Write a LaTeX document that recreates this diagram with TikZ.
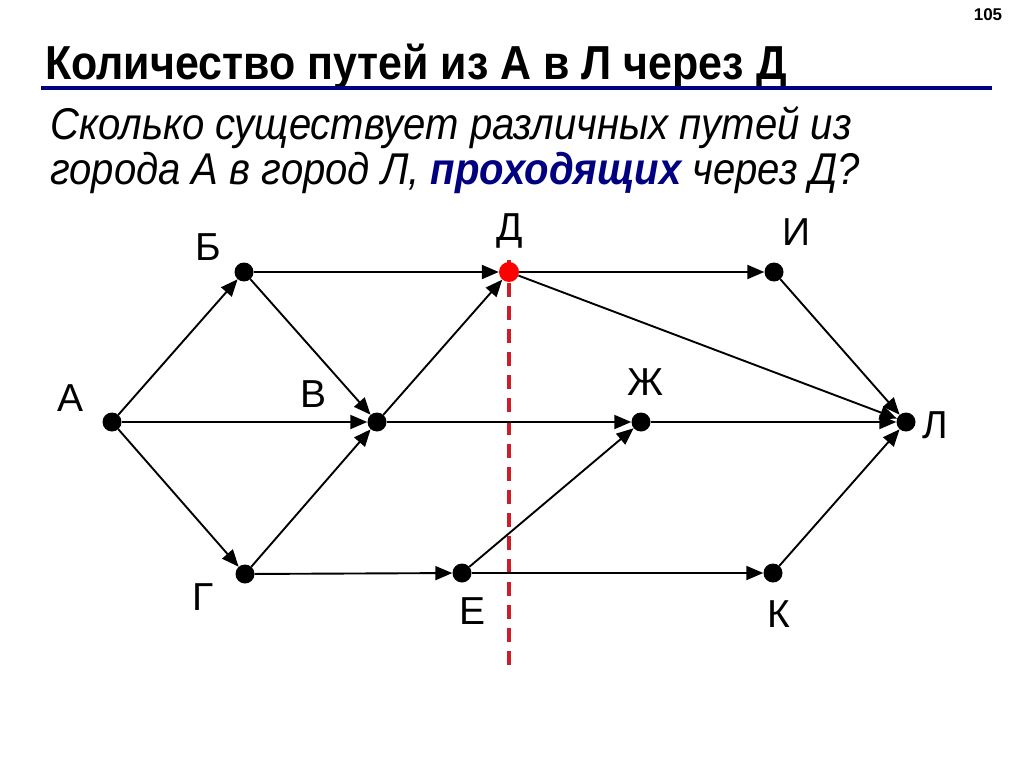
\documentclass[tikz,border=0pt]{standalone}
\usepackage{fontspec}
\setmainfont{Liberation Sans}
\newfontfamily\slidefont[FakeStretch=0.9]{Liberation Sans}
\usetikzlibrary{arrows.meta}
\definecolor{titleblue}{RGB}{0,0,128}
\definecolor{cutred}{RGB}{205,30,40}
\tikzset{
  town/.style={circle, fill=black, inner sep=0pt, minimum size=19pt},
  townname/.style={font=\fontsize{39}{41}\selectfont, inner sep=0pt},
  road/.style={line width=1.9pt, -{Triangle[length=17pt,width=14pt]}},
  cut/.style={cutred, line width=3.3pt, dash pattern=on 14pt off 9pt}
}

\begin{document}
\begin{tikzpicture}[x=1pt, y=-1pt]
\useasboundingbox[fill=white] (0,0) rectangle (1024,767);
\node[font=\bfseries\fontsize{17}{18}\selectfont] (num) at (988,15) {105};
\node[anchor=base west, inner sep=0pt, font=\slidefont\bfseries\fontsize{47.7}{50}\selectfont] (title) at (45,80) {Количество путей из А в Л через Д};
\coordinate (rulel) at (41,88);
\coordinate (ruler) at (992,88);
\draw[titleblue, line width=3.5pt] (rulel) -- (ruler);
\node[anchor=base west, inner sep=0pt, font=\slidefont\itshape\fontsize{44.5}{46}\selectfont] (q1) at (50,140) {Сколько существует различных путей из};
\node[anchor=base west, inner sep=0pt, font=\slidefont\itshape\fontsize{44.5}{46}\selectfont] (q2) at (50,185) {города А в город Л, {\bfseries\color{titleblue}проходящих} через Д?};

\coordinate (cuttop) at (509,260);
\coordinate (cutbot) at (509,674);
\draw[cut] (cuttop) -- (cutbot);

\node[town] (A) at (112,422) {};
\node[town] (B) at (244,272) {};
\node[town] (V) at (377,422) {};
\node[town] (G) at (245,574) {};
\node[town, fill=red, minimum size=20pt] (D) at (509,272) {};
\node[town] (E) at (462,573) {};
\node[town] (Zh) at (641,422) {};
\node[town] (I) at (774,272) {};
\node[town] (K) at (773,573) {};
\node[town] (L) at (906,422) {};

\node[townname] (nA) at (71,398) {А};
\node[townname] (nB) at (208,247) {Б};
\node[townname] (nV) at (314,394) {В};
\node[townname] (nG) at (203,597) {Г};
\node[townname] (nD) at (510,231) {Д};
\node[townname] (nE) at (472,611) {Е};
\node[townname] (nZh) at (645,382) {Ж};
\node[townname] (nI) at (797,232) {И};
\node[townname] (nK) at (779,614) {К};
\node[townname] (nL) at (935,425) {Л};

\draw[road] (A) -- (B);
\draw[road] (A) -- (V);
\draw[road] (A) -- (G);
\draw[road] (B) -- (D);
\draw[road] (B) -- (V);
\draw[road] (G) -- (V);
\draw[road] (G) -- (E);
\draw[road] (V) -- (D);
\draw[road] (V) -- (Zh);
\draw[road] (E) -- (Zh);
\draw[road] (E) -- (K);
\draw[road] (D) -- (I);
\draw[road] (D) -- (L);
\draw[road] (I) -- (L);
\draw[road] (Zh) -- (L);
\draw[road] (K) -- (L);
\end{tikzpicture}
\end{document}
